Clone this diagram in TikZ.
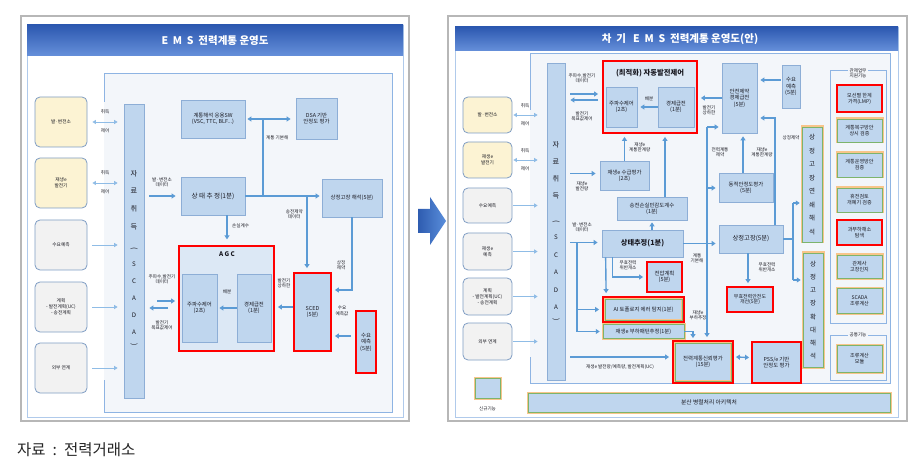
\documentclass[tikz,border=0pt]{standalone}
\usepackage{fontspec}
\setmainfont{Noto Sans CJK KR}
\usetikzlibrary{arrows.meta,calc}
\definecolor{boxfill}{HTML}{BFD6EE}
\definecolor{boxline}{HTML}{8DAED6}
\definecolor{arr}{HTML}{5B9BD5}
\definecolor{arrlt}{HTML}{8FBCE6}
\definecolor{framec}{HTML}{8EB4E3}
\definecolor{yel}{HTML}{FCF3D3}
\definecolor{grayf}{HTML}{F2F2F2}
\definecolor{inbord}{HTML}{7F9DC4}
\definecolor{txt}{HTML}{1A1A22}
\definecolor{glowo}{HTML}{F8C58A}
\definecolor{glowg}{HTML}{7DB46C}
\definecolor{bgin}{HTML}{F3F6FA}
\definecolor{agcfill}{HTML}{DCE8F5}
\definecolor{titleA}{HTML}{2C58B0}
\definecolor{titleB}{HTML}{6690DA}
\definecolor{redb}{HTML}{FF0000}
\definecolor{panelb}{HTML}{B7B7B7}
\definecolor{arrowA}{HTML}{2E5CB0}
\definecolor{arrowB}{HTML}{5A8EDB}
\tikzset{
  bx/.style={draw=boxline, fill=boxfill, line width=0.7pt, inner sep=0.5pt, align=center, text=txt, font=\fontsize{5.4}{6.4}\selectfont},
  redbx/.style={bx, draw=redb, line width=1.8pt},
  glowbx/.style={bx, draw=glowg, line width=0.5pt, preaction={draw=glowo, line width=3pt}},
  glowln/.style={draw=glowg, line width=0.5pt, preaction={draw=glowo, line width=2.5pt}},
  inp/.style={draw=inbord, rounded corners=5pt, line width=0.8pt, align=center, text=txt, font=\fontsize{4.7}{5.8}\selectfont, inner sep=0.5pt},
  lb/.style={font=\fontsize{4.6}{5.3}\selectfont, align=center, inner sep=0pt, text=txt},
  vt/.style={font=\fontsize{7.2}{7.2}\selectfont, inner sep=0pt, text=txt},
  vtl/.style={font=\fontsize{6.2}{6.2}\selectfont, inner sep=0pt, text=txt},
  vts/.style={font=\fontsize{6.5}{6.5}\selectfont, inner sep=0pt, text=txt},
  ar/.style={draw=arr, line width=1.4pt, -{Triangle[width=5pt,length=4pt]}},
  ln/.style={draw=arr, line width=1.4pt},
  dar/.style={draw=arr, line width=1.4pt, {Triangle[width=5pt,length=4pt]}-{Triangle[width=5pt,length=4pt]}},
  iar/.style={draw=arrlt, line width=0.9pt, -{Triangle[width=4pt,length=3.5pt]}},
  idar/.style={draw=arrlt, line width=0.9pt, {Triangle[width=4pt,length=3.5pt]}-{Triangle[width=4pt,length=3.5pt]}},
}
\begin{document}
\begin{tikzpicture}[x=1pt,y=-1pt]
\useasboundingbox (0,0) rectangle (923,470);
\fill[white] (0,0) rectangle (923,470);

% ================= LEFT PANEL =================
\draw[panelb, line width=1.2pt, fill=white] (21,16) rectangle (409,421);
\draw[framec!70, line width=0.7pt] (27,25) rectangle (403,417);
\shade[top color=titleA, bottom color=titleB] (27,25) rectangle (403,56);
\node[font=\bfseries\fontsize{10.5}{12}\selectfont, text=white] (titL) at (215,41) {E\ \ M\ \ S\ \ 전력계통 운영도};
\fill[bgin] (104,73) rectangle (392,412);
\draw[framec, line width=0.9pt] (104,102) -- (104,73) -- (392,73) -- (392,412) -- (104,412) -- (104,380);

\node[inp, fill=yel, minimum width=52, minimum height=50] (L1) at (61,122) {발·변전소};
\node[inp, fill=yel, minimum width=52, minimum height=50] (L2) at (61,183) {재생e\\발전기};
\node[inp, fill=grayf, minimum width=52, minimum height=50] (L3) at (61,245) {수요예측};
\node[inp, fill=grayf, minimum width=52, minimum height=50] (L4) at (61,307) {계획\\- 발전계획(UC)\\- 송전계획};
\node[inp, fill=grayf, minimum width=52, minimum height=50] (L5) at (61,368) {외부 연계};

\node[bx, minimum width=20, minimum height=294] (scL) at (134,251) {};
\foreach \ch/\yy in {자/174, 료/191, 취/209, 득/227} \node[vt] (scLk\yy) at (134,\yy) {\ch};
\foreach \ch/\yy in {S/264, C/281, A/298, D/315, A/332} \node[vtl] (scLe\yy) at (134,\yy) {\ch};
\node[vt, rotate=-90] (scLp1) at (134,249) {(};
\node[vt, rotate=-90] (scLp2) at (134,345) {)};

\draw[idar] ($(L1.east)+(5,0)$) -- ($(L1.east -| scL.west)+(-6,0)$);
\draw[idar] ($(L2.east)+(5,0)$) -- ($(L2.east -| scL.west)+(-6,0)$);
\draw[iar] ($(L3.east)+(5,0)$) -- ($(L3.east -| scL.west)+(-6,0)$);
\draw[iar] ($(L4.east)+(5,0)$) -- ($(L4.east -| scL.west)+(-6,0)$);
\draw[iar] ($(L5.east)+(5,0)$) -- ($(L5.east -| scL.west)+(-6,0)$);
\node[lb] (tL1a) at (105,112) {취득};
\node[lb] (tL1b) at (105,131) {제어};
\node[lb] (tL2a) at (105,173) {취득};
\node[lb] (tL2b) at (105,192) {제어};

\node[bx, minimum width=64, minimum height=38] (sw) at (213,119) {계통해석 응용SW\\(VSC, TTC, BLF...)};
\node[bx, minimum width=41, minimum height=41] (dsa) at (316.5,118.5) {DSA 기반\\안정도 평가};
\node[bx, minimum width=64, minimum height=38, font=\fontsize{6.6}{7.5}\selectfont] (ss) at (213,196) {상 태 추 정(1분)};
\node[bx, minimum width=60, minimum height=38] (ca) at (352,198) {상정고장 해석(5분)};

\node[redbx, fill=agcfill, minimum width=95, minimum height=105] (agc) at (226.5,298.5) {};
\node[font=\bfseries\fontsize{6.3}{7}\selectfont, text=txt] (agct) at (227,254) {A G C};
\node[bx, minimum width=35, minimum height=68] (fc) at (199.5,308) {주파수제어\\(2초)};
\node[bx, minimum width=34, minimum height=68] (ed) at (254,308) {경제급전\\(1분)};
\node[redbx, minimum width=37, minimum height=78] (sced) at (312.5,312) {SCED\\(5분)};
\node[redbx, minimum width=20, minimum height=62] (dmd) at (366,342) {수요\\예측\\(5분)};

\draw[ar] ($(ss.west -| scL.east)+(5,0)$) -- ($(ss.west)+(-5,0)$);
\node[lb] (tss) at (162,182) {발·변전소\\데이터};
\draw[dar] ($(sw.east)+(2,0)$) -- ($(sw.east -| dsa.west)+(-5,0)$);
\coordinate (b1) at (263,119);
\coordinate (b2) at (263,196);
\draw[ln] (b1) -- (b2);
\node[lb, anchor=west] (tb) at (266,138) {계통 기본해};
\draw[ar] (ss.east) -- ($(ss.east -| ca.west)+(-2,0)$);
\draw[ar] ($(ss.south)+(14,0)$) -- ($(ss.south)+(14,24)$);
\node[lb, anchor=west] (tloss) at (232,226) {손실계수};
\coordinate (b3) at (307,196);
\draw[ar] (b3) -- ($(b3 |- sced.north)+(0,-4)$);
\node[lb, anchor=east] (tsong) at (303,214) {송전제약\\데이터};
\coordinate (c290) at (352,290);
\draw[ar] (ca.south) -- (c290) -- ($(c290 -| sced.east)+(3,0)$);
\node[lb] (tsj) at (341,265) {상정\\제약};
\draw[ar] ($(sced.west)+(0,-5)$) -- ($(agc.east |- sced.west)+(3,-5)$);
\node[lb] (tgen) at (284,283) {발전기\\상하한};
\draw[ar] ($(dmd.west)+(-4,-6)$) -- ($(sced.east |- dmd.west)+(3,-6)$);
\node[lb] (tdmd) at (342,311) {수요\\예측값};
\draw[ar] (ed.west) -- ($(fc.east)+(2,0)$);
\node[lb] (tbb) at (227,292) {배분};
\coordinate (s1) at (157,301);
\coordinate (s2) at (168,308);
\draw[ar] (s1) -- ($(s1 -| agc.west)+(-3,0)$);
\draw[ar] (s2) -- ($(s2 -| scL.east)+(5,0)$);
\node[lb] (tfq) at (162,279) {주파수,발전기\\데이터};
\node[lb] (tgc) at (162,325) {발전기\\목표값제어};

% ================= BIG ARROW =================
\shade[left color=arrowA, right color=arrowB] (418,209) -- (430,209) -- (430,197) -- (446,221) -- (430,245) -- (430,233) -- (418,233) -- cycle;

% ================= RIGHT PANEL =================
\draw[panelb, line width=1.2pt, fill=white] (448,16) rectangle (907,421);
\draw[framec!70, line width=0.7pt] (455,27) rectangle (898,417);
\shade[top color=titleA, bottom color=titleB] (455,27) rectangle (898,51);
\node[font=\bfseries\fontsize{10.5}{12}\selectfont, text=white] (titR) at (680,39) {차\ \ 기\ \ \ E\ \ M\ \ S\ \ 전력계통 운영도(안)};
\fill[bgin] (530,53) rectangle (890,383);
\draw[framec, line width=0.9pt] (530,110) -- (530,53) -- (890,53) -- (890,383) -- (530,383) -- (530,357);

\node[inp, fill=yel, minimum width=49, minimum height=36] (R1) at (487.5,115) {발·변전소};
\node[inp, fill=yel, minimum width=49, minimum height=36] (R2) at (487.5,160) {재생e\\발전기};
\node[inp, fill=grayf, minimum width=49, minimum height=35] (R3) at (487.5,205.5) {수요예측};
\node[inp, fill=grayf, minimum width=49, minimum height=37] (R4) at (487.5,251.5) {재생e\\예측};
\node[inp, fill=grayf, minimum width=49, minimum height=37] (R5) at (487.5,296.5) {계획\\- 발전계획(UC)\\- 송전계획};
\node[inp, fill=grayf, minimum width=49, minimum height=37] (R6) at (487.5,341.5) {외부 연계};

\node[bx, minimum width=18, minimum height=317] (scR) at (556,221.5) {};
\foreach \ch/\yy in {자/145, 료/162, 취/179, 득/196} \node[vt] (scRk\yy) at (556,\yy) {\ch};
\foreach \ch/\yy in {S/237, C/255, A/272, D/290, A/307} \node[vtl] (scRe\yy) at (556,\yy) {\ch};
\node[vt, rotate=-90] (scRp1) at (556,222) {(};
\node[vt, rotate=-90] (scRp2) at (556,320) {)};

\draw[idar] ($(R1.east)+(1,0)$) -- ($(R1.east -| scR.west)+(-9,0)$);
\draw[idar] ($(R2.east)+(1,0)$) -- ($(R2.east -| scR.west)+(-9,0)$);
\draw[iar] ($(R3.east)+(1,0)$) -- ($(R3.east -| scR.west)+(-9,0)$);
\draw[iar] ($(R4.east)+(1,0)$) -- ($(R4.east -| scR.west)+(-9,0)$);
\draw[iar] ($(R5.east)+(1,0)$) -- ($(R5.east -| scR.west)+(-9,0)$);
\draw[iar] ($(R6.east)+(1,0)$) -- ($(R6.east -| scR.west)+(-9,0)$);
\node[lb] (tR1a) at (525,106) {취득};
\node[lb] (tR1b) at (525,124) {제어};
\node[lb] (tR2a) at (525,151) {취득};
\node[lb] (tR2b) at (525,169) {제어};

% AGC (optimised)
\node[redbx, fill=agcfill, minimum width=94, minimum height=72] (agc2) at (650,97) {};
\node[font=\bfseries\fontsize{7.3}{8}\selectfont, text=txt] (agc2t) at (650,73) {(최적화) 자동발전제어};
\node[bx, minimum width=31, minimum height=40] (fc2) at (621.5,107) {주파수제어\\(2초)};
\node[bx, minimum width=36, minimum height=40] (ed2) at (676,107) {경제급전\\(1분)};
\draw[ar] (ed2.west) -- ($(fc2.east)+(3,0)$);
\node[lb] (tbb2) at (649,99) {배분};
\coordinate (s3) at (570,94);
\coordinate (s4) at (598,100);
\draw[ar] (s3) -- ($(s3 -| agc2.west)+(-4,0)$);
\draw[ar] (s4) -- ($(s4 -| scR.east)+(5,0)$);
\node[lb] (tfq2) at (582,78) {주파수,발전기\\데이터};
\node[lb] (tgc2) at (582,116) {발전기\\목표값제어};

\node[bx, minimum width=49, minimum height=29] (ren) at (624.5,175.5) {재생e 수급평가\\(2초)};
\draw[ar] (ren.north) -- ($(ren.north |- agc2.south)+(0,3)$);
\node[lb, anchor=west] (tren) at (629,147) {재생e\\계통한계량};
\draw[ar] ($(scR.east |- ren.west)+(5,-2)$) -- ($(ren.west)+(-4,-2)$);
\node[lb] (tren2) at (582,186) {재생e\\발전량};

\node[bx, minimum width=70, minimum height=23] (loss) at (652,208.5) {송전손실민감도계수\\(1분)};
\draw[ar] ($(loss.north)+(13,0)$) -- ($(agc2.south)+(15,3)$);

\node[bx, minimum width=81, minimum height=27, font=\bfseries\fontsize{7.2}{8}\selectfont] (se2) at (642.5,243.5) {상태추정(1분)};
\draw[ar] (se2.north -| loss.south) -- ($(loss.south)+(0,2)$);
\draw[ar] ($(scR.east |- se2.west)+(5,-1)$) -- ($(se2.west)+(-4,-1)$);
\node[lb] (tse) at (582,227) {발·변전소\\데이터};

\node[redbx, minimum width=35, minimum height=30] (vp) at (664.5,277) {전압계획\\(5분)};
\node[redbx, minimum width=81, minimum height=25, font=\fontsize{5.4}{6.2}\selectfont] (ai) at (643.5,309.5) {AI 토폴로지 에러 탐지(1분)};
\draw[glowln] ($(ai.south west)+(3,-3)$) rectangle ($(ai.north east)+(-3,3)$);
\node[glowbx, minimum width=81, minimum height=14, font=\fontsize{5.4}{6.2}\selectfont] (lp) at (643.5,331.5) {재생e 부하패턴추정(1분)};

\coordinate (v1) at (577,242.5);
\coordinate (v2) at (577,331.5);
\coordinate (v5) at (577,309.5);
\draw[ln] (v1) -- (v2);
\draw[ar] (v5) -- ($(ai.west)+(-3,0)$);
\draw[ar] (v2) -- ($(lp.west)+(-3,0)$);
\draw[ar] ($(se2.south west)+(4,0)$) -- ($(ai.north west)+(4,-3)$);
\coordinate (v3) at ($(se2.south west)+(11,0)$);
\coordinate (v6) at ($(v3 |- vp.west)$);
\draw[ar] (v3) -- (v6) -- ($(vp.west)+(-3,0)$);
\node[lb] (tvp) at (628,265) {무효전력\\위반개소};

\node[redbx, minimum width=60, minimum height=42] (rel) at (703,362) {전력계통신뢰평가\\(15분)};
\draw[glowln] ($(rel.south west)+(3,-3)$) rectangle ($(rel.north east)+(-3,3)$);
\node[redbx, minimum width=49, minimum height=41] (pss) at (776.5,362.5) {PSS/e 기반\\안정도 평가};
\coordinate (v4) at (693,331.5);
\draw[ar] (lp.east) -- (v4) -- ($(v4 |- rel.north)+(0,-2)$);
\node[lb] (tlp) at (698,315) {재생e\\부하추정};
\coordinate (h1) at (570,357);
\draw[ar] (h1) -- ($(h1 -| rel.west)+(-3,0)$);
\node[lb] (th1) at (620,367) {재생e 발전량/예측량, 발전계획(UC)};
\draw[dar] ($(rel.east)+(2,-5)$) -- ($(pss.west)+(-2,-5)$);

\node[bx, minimum width=35, minimum height=70] (sced2) at (739.5,98) {안전제약\\경제급전\\(5분)};
\draw[ar] (sced2.west) -- ($(sced2.west -| agc2.east)+(3,0)$);
\node[lb] (tgen2) at (709,110) {발전기\\상하한};
\node[bx, minimum width=18, minimum height=43] (dmd2) at (791,86.5) {수요\\예측\\(5분)};
\draw[ar] ($(dmd2.west)+(-1,-6.5)$) -- ($(dmd2.west -| sced2.east)+(3,-6.5)$);

\node[bx, minimum width=54, minimum height=29] (dyn) at (746,187.5) {동적안정도평가\\(5분)};
\draw[ar] ($(dyn.north)+(-3,0)$) -- ($(dyn.north |- sced2.south)+(-3,3)$);
\node[lb] (tdyn) at (762,152) {재생e\\계통한계량};

\node[bx, minimum width=64, minimum height=28, font=\fontsize{6.3}{7}\selectfont] (ca2) at (751,239) {상정고장(5분)};
\draw[ar] (se2.east) -- ($(se2.east -| ca2.west)+(-3,0)$);
\node[lb] (tbase) at (697,258) {계통\\기본해};

\coordinate (bt) at (707,127);
\coordinate (bm) at (707,188);
\draw[ar] (bt) -- ($(bt |- rel.north)+(0,-3)$);
\draw[ar] (bt) -- ($(bt -| sced2.west)+(-3,0)$);
\draw[ar] (bm) -- ($(bm -| dyn.west)+(-3,0)$);
\node[lb] (tbus) at (720,152) {전력계통\\제약};

\coordinate (u1) at ($(ca2.north)+(24,0)$);
\coordinate (u2) at ($(u1 |- sced2.center)+(0,20)$);
\draw[ar] (u1) -- (u2) -- ($(u2 -| sced2.east)+(3,0)$);
\node[lb] (tu) at (791,138) {상정제약};

\node[glowbx, minimum width=20, minimum height=115] (cc1) at (812,184.5) {};
\foreach \ch [count=\i] in {상,정,고,장,연,쇄,해,석} \node[vts] (cc1k\i) at (812,{184.5+(\i-4.5)*13.5}) {\ch};
\node[glowbx, minimum width=20, minimum height=114] (cc2) at (813,310) {};
\foreach \ch [count=\i] in {상,정,고,장,확,대,해,석} \node[vts] (cc2k\i) at (813,{310+(\i-4.5)*13.2}) {\ch};

\coordinate (r1) at (793,239);
\coordinate (r2) at (793,203);
\coordinate (r3) at (793,280);
\draw[ln] (ca2.east) -- (r1);
\draw[ln] (r2) -- (r3);
\draw[ar] (r2) -- ($(r2 -| cc1.west)+(-2,0)$);
\draw[ar] (r3) -- ($(r3 -| cc2.west)+(-2,0)$);

\node[redbx, minimum width=46, minimum height=25, font=\fontsize{5}{5.8}\selectfont] (qv) at (750,299.5) {무효전력안전도\\개선(5분)};
\draw[ar] ($(ca2.south)+(-3,0)$) -- ($(ca2.south |- qv.north)+(-3,-3)$);
\node[lb] (tqv) at (767,267) {무효전력\\위반개소};

% support function groups
\draw[framec, line width=0.8pt] (830,70) rectangle (886,323);
\node[lb, fill=bgin, inner sep=1.2pt] (g1) at (858,73) {관제업무\\지원기능};
\draw[framec, line width=0.8pt] (830,335) rectangle (886,380);
\node[lb, fill=bgin, inner sep=1.2pt] (g2) at (858,335) {공통기능};
\tikzset{itm/.style={minimum width=45, font=\fontsize{5.1}{6}\selectfont}}
\node[redbx, itm, minimum height=27] (it1) at (859.5,98.5) {모선별 한계\\가격(LMP)};
\node[glowbx, itm, minimum height=23] (it2) at (859.5,130.5) {계통복구방안\\상시 검증};
\node[glowbx, itm, minimum height=24] (it3) at (859.5,165) {계통운영방안\\검증};
\node[glowbx, itm, minimum height=24] (it4) at (859.5,200) {휴전검토\\개폐기 검증};
\node[redbx, itm, minimum height=25] (it5) at (859.5,232.5) {과부하해소\\탐색};
\node[glowbx, itm, minimum height=23] (it6) at (859.5,266.5) {관제사\\고장인지};
\node[glowbx, itm, minimum height=25] (it7) at (859.5,300.5) {SCADA\\조류계산};
\node[glowbx, itm, minimum height=27] (it8) at (859.5,358.5) {조류계산\\모듈};

\node[glowbx, minimum width=362, minimum height=19, font=\fontsize{5.8}{6.5}\selectfont] (bar) at (709,402.5) {분산 병렬처리 아키텍처};
\node[glowbx, minimum width=25, minimum height=20] (leg) at (487.5,388) {};
\node[lb] (tleg) at (487.5,409) {신규기능};

% caption
\node[anchor=west, font=\fontsize{15.5}{17}\selectfont, text=black!85, inner sep=0pt] (cap) at (17,450) {자료\hspace{7pt}:\hspace{7pt}전력거래소};
\end{tikzpicture}
\end{document}
